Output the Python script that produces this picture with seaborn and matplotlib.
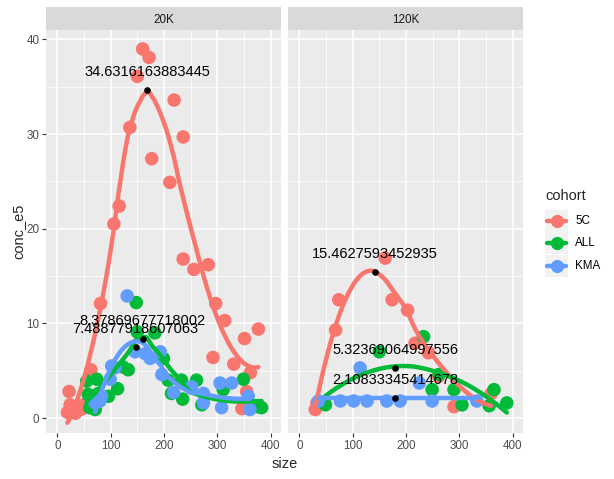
import numpy as np
import pandas as pd
import matplotlib
matplotlib.use("Agg")
import matplotlib.pyplot as plt
from matplotlib.lines import Line2D
from matplotlib.patches import Rectangle
import seaborn as sns

# ---- data ----
panels = ["20K", "120K"]
cohorts = ["5C", "ALL", "KMA"]

x_5c_20k = [19, 22, 24, 27, 30, 34, 38, 43, 47, 52, 63, 81, 106, 116, 136, 150, 160, 172, 177, 211, 219, 236, 236, 256, 283, 292, 297, 314, 331, 346, 351, 355, 362, 377]
y_5c_20k = [0.6, 2.8, 1.4, 0.8, 1.2, 0.5, 0.9, 0.9, 1.0, 1.5, 5.1, 12.1, 20.5, 22.4, 30.7, 36.1, 39.0, 38.1, 27.4, 24.9, 33.6, 29.7, 16.8, 15.7, 16.2, 6.4, 12.1, 10.3, 5.7, 1.0, 8.4, 2.8, 4.8, 9.4]

x_all_20k = [55, 58, 61, 71, 74, 77, 96, 113, 123, 133, 148, 150, 183, 199, 208, 214, 233, 235, 261, 271, 311, 349, 368, 377, 383]
y_all_20k = [3.9, 2.5, 1.1, 0.9, 4.1, 2.6, 2.3, 3.1, 5.4, 5.1, 12.2, 9.1, 9.0, 6.3, 4.0, 2.6, 4.0, 2.0, 4.0, 1.4, 3.0, 4.1, 1.2, 1.2, 1.1]

x_kma_20k = [71, 80, 83, 99, 102, 108, 131, 146, 165, 174, 193, 196, 218, 252, 274, 274, 305, 308, 327, 358, 361]
y_kma_20k = [1.6, 1.8, 2.3, 4.1, 5.5, 5.3, 12.9, 7.0, 6.8, 6.3, 7.0, 4.6, 2.7, 3.3, 2.6, 1.6, 3.7, 1.1, 3.7, 2.3, 0.9]

x_5c_120k = [30, 33, 68, 74, 161, 174, 203, 217, 242, 261, 290, 360]
y_5c_120k = [0.9, 1.6, 9.3, 12.5, 16.9, 12.5, 11.4, 7.9, 6.9, 4.4, 1.2, 2.6]

x_all_120k = [49, 150, 233, 249, 262, 290, 305, 356, 365, 389]
y_all_120k = [1.4, 7.0, 8.6, 3.0, 4.6, 3.0, 1.4, 1.3, 3.0, 1.6]

x_kma_120k = [36, 77, 102, 114, 127, 164, 189, 225, 249, 333]
y_kma_120k = [1.8, 1.8, 1.8, 5.3, 1.8, 1.8, 1.8, 3.7, 1.8, 1.8]

# peak of each smooth (black dot + label)
peak_panel = ["20K", "20K", "20K", "120K", "120K", "120K"]
peak_x = [169, 160, 147, 141, 180, 180]
peak_y = [34.6316163883445, 8.37869677718002, 7.48877918607063,
          15.4627593452935, 5.32369064997556, 2.10833345414678]
# groups whose smooth came out flat in the original
flat_groups = [("120K", "KMA")]
spans = {("20K", "5C"): 0.6, ("120K", "ALL"): 2.0, ("120K", "5C"): 0.97}

palette = {"5C": "#F8766D", "ALL": "#00BA38", "KMA": "#619CFF"}

raw = {
    ("20K", "5C"): (x_5c_20k, y_5c_20k),
    ("20K", "ALL"): (x_all_20k, y_all_20k),
    ("20K", "KMA"): (x_kma_20k, y_kma_20k),
    ("120K", "5C"): (x_5c_120k, y_5c_120k),
    ("120K", "ALL"): (x_all_120k, y_all_120k),
    ("120K", "KMA"): (x_kma_120k, y_kma_120k),
}
df = pd.concat([pd.DataFrame({"size": v[0], "conc_e5": v[1], "batch": k[0], "cohort": k[1]})
                for k, v in raw.items()], ignore_index=True)
peaks = pd.DataFrame({"batch": peak_panel, "size": peak_x, "conc_e5": peak_y})


def loess(x, y, span=0.75, n_out=80):
    x = np.asarray(x, float)
    y = np.asarray(y, float)
    q = max(min(int(np.floor(len(x) * span)), len(x)), 3)
    grid = np.linspace(x.min(), x.max(), n_out)
    fit = []
    for g in grid:
        d = np.abs(x - g)
        h = np.sort(d)[q - 1] * max(span, 1.0) * 1.0001
        w = np.where(d < h, (1 - (d / h) ** 3) ** 3, 0.0)
        X = np.column_stack([np.ones_like(x), x - g, (x - g) ** 2])
        sw = np.sqrt(w)
        beta = np.linalg.lstsq(X * sw[:, None], y * sw, rcond=None)[0]
        fit.append(beta[0])
    return grid, np.array(fit)


fits = []
for (b, c), (xs, ys) in raw.items():
    if (b, c) in flat_groups:
        pv = peaks[(peaks.batch == b)].conc_e5.min()
        gx = np.linspace(min(xs), max(xs), 80)
        gy = np.full_like(gx, pv)
    else:
        gx, gy = loess(xs, ys, span=spans.get((b, c), 0.75))
    fits.append(pd.DataFrame({"size": gx, "fit": gy, "batch": b, "cohort": c}))
fits = pd.concat(fits, ignore_index=True)

# ---- drawing ----
sns.set_theme(style="darkgrid")
plt.rcParams["font.family"] = ["Liberation Sans", "DejaVu Sans"]

W, H = 614, 479
fig = plt.figure(figsize=(W / 100, H / 100), dpi=100)
fig.patch.set_facecolor("white")


def px_rect(x0, y0, x1, y1):
    return [x0 / W, (H - y1) / H, (x1 - x0) / W, (y1 - y0) / H]


panel_px = {"20K": (46, 281), "120K": (288, 523)}
top, bottom = 30, 433

for b in panels:
    x0, x1 = panel_px[b]
    ax = fig.add_axes(px_rect(x0, top, x1, bottom))
    ax.set_facecolor("#EBEBEB")
    sub = df[df.batch == b]
    sns.scatterplot(data=sub, x="size", y="conc_e5", hue="cohort", hue_order=cohorts,
                    palette=palette, s=95, linewidth=0, alpha=1, legend=False, ax=ax, zorder=3)
    sns.lineplot(data=fits[fits.batch == b], x="size", y="fit", hue="cohort", hue_order=cohorts,
                 palette=palette, lw=3.2, sort=False, estimator=None, legend=False, ax=ax, zorder=4)
    pk = peaks[peaks.batch == b]
    ax.scatter(pk["size"], pk["conc_e5"], s=14, color="black", zorder=5)
    for xv, yv in zip(pk["size"], pk["conc_e5"]):
        ax.annotate(f"{yv:.15g}", (xv, yv), xytext=(0, 13), textcoords="offset points",
                    ha="center", va="center", fontsize=10.5, color="black", zorder=6)

    ax.set_xlim(-21.2, 419.4)
    ax.set_ylim(-1.58, 41.0)
    ax.set_xticks([0, 100, 200, 300, 400])
    ax.set_xticks([50, 150, 250, 350], minor=True)
    ax.set_yticks([0, 10, 20, 30, 40])
    ax.set_yticks([5, 15, 25, 35], minor=True)
    ax.grid(which="major", color="white", lw=1.1)
    ax.grid(which="minor", color="white", lw=0.55)
    ax.set_axisbelow(True)
    for s in ax.spines.values():
        s.set_visible(False)
    ax.tick_params(which="major", length=2.7, width=0.8, color="#333333",
                   labelsize=8.4, labelcolor="#4D4D4D", pad=2, bottom=True, left=True)
    ax.tick_params(which="minor", length=0)
    ax.set_xlabel("")
    ax.set_ylabel("")
    if b != "20K":
        ax.tick_params(axis="y", left=False, labelleft=False)

    sax = fig.add_axes(px_rect(x0, 7, x1, top))
    sax.set_facecolor("#D9D9D9")
    sax.set_xticks([])
    sax.set_yticks([])
    for s in sax.spines.values():
        s.set_visible(False)
    sax.text(0.5, 0.45, b, ha="center", va="center", fontsize=8.4, color="#1A1A1A",
             transform=sax.transAxes)

fig.text(284.5 / W, 1 - 464 / H, "size", ha="center", va="center", fontsize=10.5)
fig.text(18 / W, 1 - 231.5 / H, "conc_e5", ha="center", va="center", rotation=90, fontsize=10.5)

# legend
fig.text(545 / W, 1 - 196 / H, "cohort", ha="left", va="center", fontsize=10.5)
key_y = [220.5, 243, 266]
for c, ky in zip(cohorts, key_y):
    fig.patches.append(Rectangle((545 / W, 1 - (ky + 11) / H), 23 / W, 22 / H,
                                 transform=fig.transFigure, facecolor="#F2F2F2",
                                 edgecolor="none", zorder=1))
    fig.lines.append(Line2D([547 / W, 566 / W], [1 - ky / H, 1 - ky / H], transform=fig.transFigure,
                            color=palette[c], lw=3.2, zorder=2))
    fig.lines.append(Line2D([556.5 / W], [1 - ky / H], transform=fig.transFigure, marker="o",
                            ms=9.5, mew=0, color=palette[c], zorder=3))
    fig.text(575 / W, 1 - ky / H, c, ha="left", va="center", fontsize=8.4, color="black")

fig.savefig("out.png", dpi=100)
